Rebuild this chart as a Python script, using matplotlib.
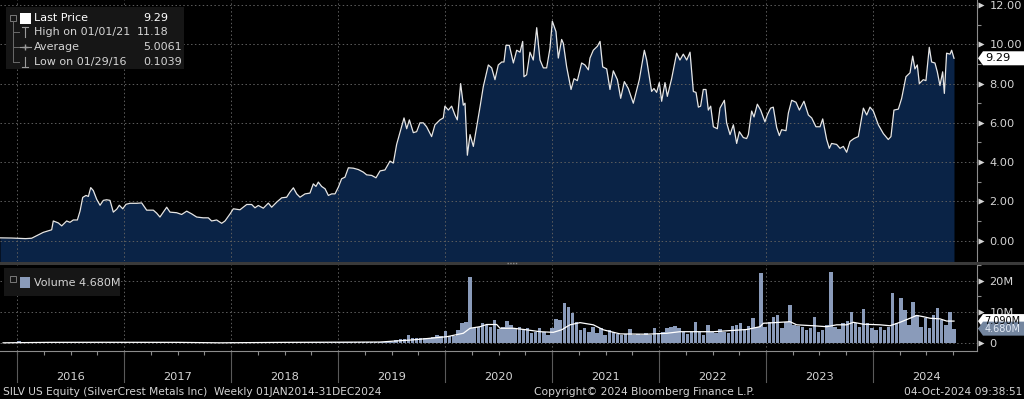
import matplotlib
matplotlib.use("Agg")
import matplotlib.pyplot as plt
import matplotlib.transforms as mtransforms
from matplotlib.lines import Line2D
from matplotlib.patches import Polygon, Rectangle
import pandas as pd

W, H = 1024, 399

# weekly close, SILV US (decimal year, USD)
price_t = [
    2015.841, 2015.95, 2016.08, 2016.137, 2016.246, 2016.324, 2016.339, 2016.386, 2016.418, 2016.464,
    2016.495, 2016.526, 2016.564, 2016.589, 2016.614, 2016.645, 2016.667, 2016.689, 2016.713, 2016.745,
    2016.776, 2016.807, 2016.838, 2016.869, 2016.900, 2016.932, 2016.956, 2016.988, 2017.019, 2017.056,
    2017.119, 2017.165, 2017.212, 2017.274, 2017.305, 2017.336, 2017.367, 2017.399, 2017.430, 2017.492,
    2017.539, 2017.586, 2017.633, 2017.679, 2017.741, 2017.788, 2017.819, 2017.866, 2017.913, 2017.944,
    2017.991, 2018.022, 2018.084, 2018.147, 2018.193, 2018.224, 2018.255, 2018.302, 2018.349, 2018.380,
    2018.427, 2018.474, 2018.520, 2018.551, 2018.583, 2018.614, 2018.645, 2018.692, 2018.738, 2018.769,
    2018.794, 2018.816, 2018.847, 2018.879, 2018.910, 2018.941, 2018.972, 2019.003, 2019.034, 2019.065,
    2019.097, 2019.143, 2019.190, 2019.236, 2019.268, 2019.315, 2019.355, 2019.393, 2019.439, 2019.486,
    2019.517, 2019.548, 2019.579, 2019.617, 2019.642, 2019.667, 2019.704, 2019.735, 2019.766, 2019.797,
    2019.828, 2019.875, 2019.906, 2019.953, 2019.984, 2019.999, 2020.031, 2020.062, 2020.093, 2020.115,
    2020.146, 2020.171, 2020.187, 2020.209, 2020.234, 2020.265, 2020.296, 2020.327, 2020.358, 2020.405,
    2020.436, 2020.467, 2020.498, 2020.530, 2020.551, 2020.570, 2020.601, 2020.639, 2020.670, 2020.701,
    2020.726, 2020.738, 2020.763, 2020.794, 2020.825, 2020.857, 2020.888, 2020.919, 2020.950, 2020.981,
    2021.003, 2021.037, 2021.059, 2021.090, 2021.106, 2021.137, 2021.178, 2021.206, 2021.237, 2021.277,
    2021.308, 2021.340, 2021.355, 2021.386, 2021.424, 2021.449, 2021.474, 2021.511, 2021.542, 2021.573,
    2021.611, 2021.642, 2021.676, 2021.713, 2021.760, 2021.816, 2021.863, 2021.885, 2021.931, 2021.953,
    2021.978, 2022.003, 2022.025, 2022.056, 2022.078, 2022.118, 2022.165, 2022.196, 2022.227, 2022.259,
    2022.290, 2022.321, 2022.346, 2022.368, 2022.389, 2022.414, 2022.439, 2022.461, 2022.483, 2022.508,
    2022.545, 2022.570, 2022.611, 2022.632, 2022.664, 2022.695, 2022.726, 2022.751, 2022.788, 2022.819,
    2022.835, 2022.866, 2022.888, 2022.919, 2022.950, 2022.990, 2023.012, 2023.043, 2023.068, 2023.100,
    2023.125, 2023.146, 2023.187, 2023.209, 2023.240, 2023.280, 2023.312, 2023.355, 2023.396, 2023.427,
    2023.467, 2023.505, 2023.530, 2023.567, 2023.592, 2023.613, 2023.660, 2023.692, 2023.723, 2023.754,
    2023.785, 2023.822, 2023.863, 2023.910, 2023.941, 2023.972, 2024.003, 2024.050, 2024.097, 2024.143,
    2024.168, 2024.196, 2024.237, 2024.268, 2024.308, 2024.346, 2024.371, 2024.392, 2024.414, 2024.433,
    2024.470, 2024.495, 2024.526, 2024.548, 2024.579, 2024.601, 2024.626, 2024.651, 2024.667, 2024.688,
    2024.720, 2024.735, 2024.757,
]
price_v = [
    0.14, 0.13, 0.10, 0.12, 0.42, 0.55, 1.00, 0.90, 0.75, 1.00,
    0.93, 1.05, 1.05, 1.50, 2.20, 2.30, 2.25, 2.70, 2.55, 2.10,
    1.80, 2.05, 2.08, 2.05, 1.45, 1.60, 1.80, 1.62, 1.85, 1.90,
    1.90, 1.92, 1.55, 1.55, 1.40, 1.20, 1.45, 1.70, 1.45, 1.42,
    1.33, 1.50, 1.36, 1.20, 1.16, 1.16, 1.00, 1.05, 0.88, 1.00,
    1.36, 1.62, 1.57, 1.84, 1.84, 1.67, 1.79, 1.65, 1.91, 1.70,
    1.96, 2.18, 2.21, 2.47, 2.69, 2.38, 2.21, 2.38, 2.42, 2.89,
    2.76, 2.98, 2.76, 2.64, 2.30, 2.38, 2.38, 2.72, 3.15, 3.23,
    3.71, 3.69, 3.62, 3.49, 3.35, 3.32, 3.20, 3.55, 3.60, 4.05,
    3.95, 4.90, 5.50, 6.25, 5.70, 6.15, 5.50, 5.55, 6.00, 6.00,
    5.80, 5.30, 5.90, 6.15, 6.25, 6.85, 6.65, 6.85, 6.40, 6.15,
    8.00, 6.90, 7.00, 4.35, 5.40, 4.80, 5.80, 6.80, 7.85, 8.95,
    8.80, 8.20, 8.95, 9.10, 9.10, 9.95, 9.95, 9.05, 9.70, 9.60,
    10.15, 8.35, 8.45, 9.60, 9.20, 10.85, 9.20, 8.80, 8.80, 9.80,
    11.18, 10.65, 9.30, 10.25, 10.05, 8.85, 7.70, 8.25, 8.15, 9.05,
    8.95, 8.70, 9.30, 9.70, 9.90, 10.15, 8.85, 8.75, 7.70, 8.65,
    8.20, 7.25, 8.10, 7.75, 7.00, 8.20, 9.70, 9.20, 7.60, 7.75,
    7.55, 8.05, 7.10, 8.05, 7.35, 8.25, 9.55, 9.20, 9.50, 9.20,
    9.60, 7.60, 7.55, 6.80, 6.85, 7.70, 7.70, 6.65, 6.85, 5.80,
    5.70, 6.75, 7.15, 6.00, 5.40, 5.90, 4.95, 5.55, 5.25, 5.20,
    5.40, 6.60, 6.30, 6.95, 6.65, 6.05, 6.40, 6.75, 6.80, 5.75,
    5.35, 5.65, 5.60, 6.50, 7.15, 7.05, 6.65, 7.10, 6.40, 6.25,
    5.80, 5.80, 6.20, 5.15, 4.70, 4.95, 4.90, 4.70, 4.80, 4.50,
    5.05, 5.20, 5.30, 6.75, 6.40, 6.80, 6.60, 5.90, 5.45, 5.15,
    5.30, 6.65, 6.70, 7.25, 8.35, 8.55, 9.40, 8.75, 8.95, 8.00,
    8.20, 8.15, 9.85, 9.10, 9.05, 8.60, 7.90, 8.60, 7.50, 9.55,
    9.50, 9.70, 9.29,
]

# volume in millions, one bar per two weeks, last bar on 04-Oct-2024
vol_m = [
    0.1, 0.15, 0.2, 0.15,
    0.6, 0.2, 0.3, 0.25, 0.3, 0.35, 0.3, 0.4, 0.3, 0.35, 0.45, 0.3, 0.4, 0.35, 0.3, 0.4,
    0.35, 0.3, 0.3, 0.35, 0.3, 0.25, 0.3, 0.35, 0.3, 0.3,
    0.3, 0.25, 0.3, 0.35, 0.3, 0.3, 0.25, 0.3, 0.3, 0.35, 0.3, 0.25, 0.3, 0.4, 0.3, 0.3,
    0.15, 0.1, 0.1, 0.1, 0.15, 0.1, 0.1, 0.15, 0.2, 0.2,
    0.3, 0.25, 0.3, 0.35, 0.3, 0.3, 0.25, 0.3, 0.35, 0.3, 0.3, 0.3, 0.35, 0.3, 0.4, 0.3,
    0.3, 0.35, 0.4, 0.3, 0.35, 0.3, 0.35, 0.4, 0.4, 0.35,
    0.4, 0.35, 0.45, 0.4, 0.5, 0.4, 0.45, 0.5, 0.4, 0.5,
    0.3, 0.3, 0.4, 0.5, 1.0, 1.4, 1.5, 2.6, 1.8, 1.7,
    1.6, 1.6, 1.8, 2.0, 2.7, 2.2, 4.0, 2.2, 2.4, 4.2,
    6.4, 6.9, 21.3, 5.0, 5.3, 6.4, 5.9, 5.3, 7.4, 4.5,
    5.3, 7.1, 5.9, 4.8, 5.1, 4.3, 4.8, 3.2, 3.7, 4.8,
    3.5, 2.7, 4.8, 7.8, 7.4, 12.8, 11.7, 9.6, 6.9, 4.3,
    4.8, 3.7, 5.3, 3.2, 4.8, 2.7, 4.3, 3.7, 2.9, 2.7,
    3.0, 4.6, 2.7, 2.9, 2.7, 3.2, 2.5, 4.8, 3.2, 3.7,
    5.0, 5.3, 5.6, 4.8,
    3.7, 3.0, 3.7, 6.7, 3.7, 2.7, 5.9, 3.7, 3.2, 4.6,
    3.7, 3.2, 5.6, 5.9, 6.4, 4.3, 5.6, 8.0, 5.3, 22.3,
    5.3, 6.9, 8.5, 9.0, 4.8, 6.9, 12.2, 5.9, 5.6, 5.3,
    4.3, 4.8, 8.5, 3.7, 4.3, 5.9, 22.9, 5.3, 4.6, 6.4,
    7.0, 10.1, 6.4, 5.3, 10.9, 6.4, 4.8, 4.3, 5.3, 4.3,
    5.3, 16.0, 6.4, 14.4, 10.6, 5.9, 13.3, 9.0, 5.3, 8.0,
    4.8, 9.0, 11.2, 7.4, 5.9, 10.1, 4.68,
]

# volume moving average (white line)
vma_t = [
    2015.87, 2016.3, 2016.8, 2017.5, 2017.9, 2018.5, 2019.0, 2019.39, 2019.704, 2020.016,
    2020.171, 2020.234, 2020.327, 2020.389, 2020.483, 2020.514, 2020.639, 2020.763, 2020.888, 2021.012,
    2021.090, 2021.168, 2021.262, 2021.386, 2021.480, 2021.636, 2021.885, 2022.072, 2022.196, 2022.508,
    2022.819, 2022.944, 2022.975, 2023.131, 2023.224, 2023.287, 2023.442, 2023.567, 2023.660, 2023.754,
    2023.816, 2023.910, 2024.066, 2024.159, 2024.252, 2024.346, 2024.408, 2024.470, 2024.533, 2024.626,
    2024.688, 2024.757,
]
vma_v = [
    0.15, 0.3, 0.32, 0.3, 0.15, 0.3, 0.35, 0.4, 1.1, 2.1,
    3.2, 4.8, 5.3, 6.0, 6.0, 4.8, 4.8, 4.3, 3.7, 3.5,
    4.3, 5.9, 6.6, 5.9, 4.3, 3.0, 2.9, 3.2, 3.7, 3.7,
    4.4, 5.3, 6.4, 6.7, 6.9, 5.9, 5.6, 5.3, 5.9, 5.9,
    6.7, 6.1, 5.9, 5.6, 6.7, 8.0, 8.9, 8.5, 8.0, 7.8,
    7.1, 7.09,
]

years = list(range(2016, 2025))
legend_rows = [
    ("Last Price", "9.29"),
    ("High on 01/01/21", "11.18"),
    ("Average", "5.0061"),
    ("Low on 01/29/16", "0.1039"),
]

BG = "#000000"
NAVY = "#0a2346"
BAR = "#8a9bba"
GRID = "#5e5e5e"
TXT = "#d4d4d4"
AXC = "#8c8c8c"
FONT = "DejaVu Sans"
XMIN, XMAX = 2015.841, 2024.972
TICK_FS = 8.2
TAG_FS = 7.0
FOOT_FS = 7.7


def fx(px):
    return px / W


def fy(py):
    return 1 - py / H


def tag(trans, y, half, face):
    # pointed value tag sitting on the right axis
    fig.add_artist(Polygon([[fx(978), y], [fx(983), y + half], [1.0, y + half],
                            [1.0, y - half], [fx(983), y - half]],
                           closed=True, transform=trans, facecolor=face, edgecolor="none"))


vol_dates = pd.date_range(end="2024-10-04", periods=len(vol_m), freq="14D")
vol_t = vol_dates.year + (vol_dates.dayofyear - 1) / 366.0

plt.rcParams["font.family"] = FONT
fig = plt.figure(figsize=(W / 100, H / 100), dpi=100, facecolor=BG)

ax = fig.add_axes([0, fy(261), fx(977), 261 / H])
axv = fig.add_axes([0, fy(351), fx(977), 86 / H])

# ---- price panel
ax.set_facecolor(BG)
ax.fill_between(price_t, price_v, -2, color=NAVY, lw=0, zorder=1)
ax.plot(price_t, price_v, color="#e6e6e6", lw=0.9, zorder=3)
for yv in range(0, 13, 2):
    ax.axhline(yv, color=GRID, lw=0.7, ls=(0, (1.5, 2.5)), zorder=2)
for yr in years:
    ax.axvline(yr, color=GRID, lw=0.7, ls=(0, (1.5, 2.5)), zorder=2)
ax.set_xlim(XMIN, XMAX)
ax.set_ylim(-1.04, 12.26)
for s in ("top", "left", "bottom"):
    ax.spines[s].set_visible(False)
ax.spines["right"].set_color(AXC)
ax.yaxis.tick_right()
ax.set_yticks(range(0, 13, 2))
ax.set_yticklabels([f"{v:.2f}" for v in range(0, 13, 2)])
ax.set_yticks(range(1, 12, 2), minor=True)
ax.tick_params(axis="y", which="major", length=0, pad=9, labelsize=TICK_FS, labelcolor=TXT)
ax.tick_params(axis="y", which="minor", length=3, color=AXC, width=0.8)
ax.tick_params(axis="x", which="both", bottom=False, labelbottom=False)

tp = mtransforms.blended_transform_factory(fig.transFigure, ax.transData)
ax.plot([fx(980.5)] * 7, list(range(0, 13, 2)), ls="none", marker=">", ms=4.5,
        color=TXT, mec="none", transform=tp, clip_on=False)

last = price_v[-1]
tag(tp, last, 7.0 / 19.6, "white")
fig.text(fx(985.5), 0, f"{last:.2f}", transform=tp, color="black", fontsize=TICK_FS,
         va="center", ha="left").set_y(last)

# ---- volume panel
axv.set_facecolor(BG)
for yv in (0, 10, 20):
    axv.axhline(yv, color=GRID, lw=0.7, ls=(0, (1.5, 2.5)), zorder=1)
for yr in years:
    axv.axvline(yr, color=GRID, lw=0.7, ls=(0, (1.5, 2.5)), zorder=1)
axv.bar(vol_t, vol_m, width=14 / 365.25 * 0.85, color=BAR, lw=0, zorder=2)
axv.plot(vma_t, vma_v, color="white", lw=0.9, zorder=3)
axv.set_xlim(XMIN, XMAX)
axv.set_ylim(-2.46, 25)
for s in ("top", "left"):
    axv.spines[s].set_visible(False)
axv.spines["right"].set_color(AXC)
axv.spines["bottom"].set_color(AXC)
axv.yaxis.tick_right()
axv.set_yticks([0, 10, 20])
axv.set_yticklabels(["0", "10M", "20M"])
axv.set_yticks([5, 15, 25], minor=True)
axv.tick_params(axis="y", which="major", length=0, pad=9, labelsize=TICK_FS, labelcolor=TXT)
axv.tick_params(axis="y", which="minor", length=3, color=AXC, width=0.8)

tv = mtransforms.blended_transform_factory(fig.transFigure, axv.transData)
axv.plot([fx(980.5)] * 3, [0, 10, 20], ls="none", marker=">", ms=4.5,
         color=TXT, mec="none", transform=tv, clip_on=False)

# x axis: year labels mid-year, quarter ticks, long year separators
axv.set_xticks([y + 0.5 for y in years])
axv.set_xticklabels([str(y) for y in years])
axv.set_xticks([y + q / 4 for y in years for q in range(4)], minor=True)
axv.xaxis.remove_overlapping_locs = False
axv.tick_params(axis="x", which="major", length=0, pad=15, labelsize=TICK_FS, labelcolor=TXT)
axv.tick_params(axis="x", which="minor", length=3, color=AXC, width=0.8)
tx = mtransforms.blended_transform_factory(axv.transData, axv.transAxes)
for yr in years:
    axv.plot([yr, yr], [0, -31 / 86], color="#5a5a5a", lw=0.8, transform=tx, clip_on=False)

# value tags on the volume axis (moving average tag is mostly covered, as on screen)
ma_last = vma_v[-1]
vlast = vol_m[-1]
hv = 7.0 / 3.13
tag(tv, ma_last, hv, "white")
fig.text(fx(984.5), 0, f"{ma_last:.3f}M", transform=tv, color="black", fontsize=TAG_FS,
         va="center", ha="left").set_y(ma_last)
tag(tv, vlast, hv, "#74869f")
fig.text(fx(984.5), 0, f"{vlast:.3f}M", transform=tv, color="#e4ebf5", fontsize=TAG_FS,
         va="center", ha="left").set_y(vlast)

# panel separator
fig.add_artist(Line2D([0, 1], [fy(262.5)] * 2, color="#3a3a3a", lw=2.2))
fig.add_artist(Line2D([fx(507), fx(517)], [fy(262.5)] * 2, color="#8a8a8a", lw=1,
                      ls=(0, (1, 1))))

# ---- legend (price)
fig.add_artist(Rectangle((fx(6), fy(69)), fx(178), 62 / H, transform=fig.transFigure,
                         facecolor="#161616", edgecolor="none"))
fig.add_artist(Rectangle((fx(10), fy(21)), fx(6), 6 / H, transform=fig.transFigure,
                         facecolor="none", edgecolor="#7a7a7a", lw=0.7))
fig.add_artist(Line2D([fx(13)] * 2, [fy(21), fy(62)], color="#6a6a6a", lw=0.7))
for yy in (32, 47, 62):
    fig.add_artist(Line2D([fx(13), fx(19)], [fy(yy)] * 2, color="#6a6a6a", lw=0.7))
fig.add_artist(Rectangle((fx(20), fy(24)), fx(11), 11 / H, transform=fig.transFigure,
                         facecolor="white", edgecolor="none"))
gc = "#9a9a9a"
fig.add_artist(Line2D([fx(25)] * 2, [fy(27), fy(37)], color=gc, lw=0.8))
fig.add_artist(Line2D([fx(22), fx(28)], [fy(27)] * 2, color=gc, lw=0.8))
fig.add_artist(Line2D([fx(20), fx(31)], [fy(47)] * 2, color=gc, lw=0.8))
fig.add_artist(Line2D([fx(25)], [fy(47)], color=gc, marker="+", ms=4, lw=0))
fig.add_artist(Line2D([fx(25)] * 2, [fy(57), fy(67)], color=gc, lw=0.8))
fig.add_artist(Line2D([fx(22), fx(28)], [fy(67)] * 2, color=gc, lw=0.8))
row_y = [18, 32, 47, 62]
for (lab, val), yy in zip(legend_rows, row_y):
    col = "white" if lab == "Last Price" else TXT
    fig.text(fx(34), fy(yy), lab, color=col, fontsize=8, va="center", ha="left")
    vx = 137 if lab.startswith("High") else 143
    fig.text(fx(vx), fy(yy), val, color=col, fontsize=8, va="center", ha="left")

# ---- legend (volume)
fig.add_artist(Rectangle((fx(4), fy(296)), fx(116), 28 / H, transform=fig.transFigure,
                         facecolor="#161616", edgecolor="none"))
fig.add_artist(Rectangle((fx(10), fy(282)), fx(6), 6 / H, transform=fig.transFigure,
                         facecolor="none", edgecolor="#7a7a7a", lw=0.7))
fig.add_artist(Rectangle((fx(20), fy(288)), fx(10), 11 / H, transform=fig.transFigure,
                         facecolor=BAR, edgecolor="none"))
fig.text(fx(34), fy(283), f"Volume {vlast:.3f}M", color=TXT, fontsize=8, va="center", ha="left")

# ---- footer
fig.text(fx(3), fy(392), "SILV US Equity (SilverCrest Metals Inc)  Weekly 01JAN2014-31DEC2024",
         color=TXT, fontsize=FOOT_FS, va="center", ha="left")
fig.text(fx(534), fy(392), "Copyright\u00a9 2024 Bloomberg Finance L.P.",
         color=TXT, fontsize=FOOT_FS, va="center", ha="left")
fig.text(fx(1022), fy(392), "04-Oct-2024 09:38:51",
         color=TXT, fontsize=FOOT_FS, va="center", ha="right")

fig.savefig("out.png", dpi=100, facecolor=BG)
